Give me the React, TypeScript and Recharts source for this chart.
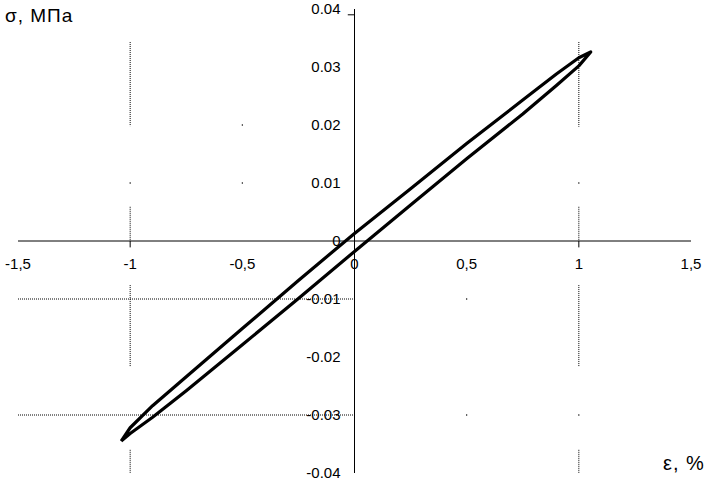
import React from 'react';
import {
  LineChart,
  Line,
  XAxis,
  YAxis,
  ReferenceLine,
  ReferenceDot,
} from 'recharts';

// loop branch going up (upper side), strain % / stress MPa
const upperStrain = [-1.04, -1.0, -0.9, -0.75, -0.5, -0.25, 0, 0.25, 0.5, 0.75, 0.9, 1.0, 1.053];
const upperStress = [-0.0345, -0.0322, -0.0284, -0.0234, -0.0151, -0.0068, 0.0013, 0.009, 0.0168, 0.0243, 0.0288, 0.0316, 0.0326];

// loop branch coming back down (lower side)
const lowerStrain = [1.053, 1.0, 0.9, 0.75, 0.5, 0.25, 0, -0.25, -0.5, -0.75, -0.9, -1.0, -1.04];
const lowerStress = [0.0326, 0.0302, 0.0268, 0.0219, 0.0142, 0.0062, -0.0018, -0.0099, -0.0179, -0.0258, -0.0304, -0.0332, -0.0345];

const xTicks = [-1.5, -1, -0.5, 0, 0.5, 1, 1.5];
const yTicks = [-0.04, -0.03, -0.02, -0.01, 0, 0.01, 0.02, 0.03, 0.04];

// what is left of the dotted grid
const gridVertical = [
  { x: -1, from: 0.0343, to: 0.0198 },
  { x: -1, from: 0.0059, to: 0 },
  { x: -1, from: -0.0076, to: -0.0217 },
  { x: -1, from: -0.036, to: -0.04 },
  { x: 1, from: 0.0343, to: 0.0197 },
  { x: 1, from: 0.0059, to: 0 },
  { x: 1, from: -0.0076, to: -0.0217 },
  { x: 1, from: -0.036, to: -0.04 },
];
const gridHorizontal = [
  { y: -0.01, from: -1.5, to: 0 },
  { y: -0.03, from: -1.5, to: 0 },
];
const gridDots = [
  { x: -0.5, y: 0.02 },
  { x: -0.5, y: 0.01 },
  { x: -1, y: 0.01 },
  { x: 1, y: 0.01 },
  { x: 0.5, y: -0.01 },
  { x: 0.5, y: -0.03 },
  { x: 1, y: -0.03 },
];
const axisTicks = [-1, 1];

const loop = [
  ...upperStrain.map((x, i) => ({ x, y: upperStress[i] })),
  ...lowerStrain.map((x, i) => ({ x, y: lowerStress[i] })),
];

const FONT = '"Liberation Sans", Arial, sans-serif';
const fmtX = (v: number) => String(v).replace('.', ',');
const fmtY = (v: number) => (v === 0 ? '0' : v.toFixed(2));

const App: React.FC = () => {
  return (
    <div style={{ position: 'absolute', left: 0, top: 0, width: 711, height: 491, background: '#fff', fontFamily: FONT }}>
      <LineChart
        width={711}
        height={491}
        data={loop}
        margin={{ top: 9, right: 20, bottom: 18, left: 18 }}
      >
        <XAxis type="number" dataKey="x" domain={[-1.5, 1.5]} allowDataOverflow hide />
        <YAxis type="number" dataKey="y" domain={[-0.04, 0.04]} allowDataOverflow hide />

        {gridVertical.map((g, i) => (
          <ReferenceLine
            key={'gv' + i}
            segment={[{ x: g.x, y: g.from }, { x: g.x, y: g.to }]}
            stroke="#000"
            strokeWidth={1}
            strokeDasharray="1 1"
            ifOverflow="visible"
          />
        ))}
        {gridHorizontal.map((g, i) => (
          <ReferenceLine
            key={'gh' + i}
            segment={[{ x: g.from, y: g.y }, { x: g.to, y: g.y }]}
            stroke="#000"
            strokeWidth={1}
            strokeDasharray="1 1"
            ifOverflow="visible"
          />
        ))}
        {gridDots.map((d, i) => (
          <ReferenceDot key={'gd' + i} x={d.x} y={d.y} r={0.7} fill="#000" stroke="none" ifOverflow="visible" />
        ))}

        {/* axes through the origin */}
        <ReferenceLine segment={[{ x: -1.5, y: 0 }, { x: 1.5, y: 0 }]} stroke="#000" strokeWidth={1} ifOverflow="visible" />
        <ReferenceLine segment={[{ x: 0, y: -0.04 }, { x: 0, y: 0.04 }]} stroke="#000" strokeWidth={1} ifOverflow="visible" />
        {axisTicks.map((t) => (
          <ReferenceLine
            key={'at' + t}
            segment={[{ x: t, y: 0 }, { x: t, y: -0.0011 }]}
            stroke="#000"
            strokeWidth={1}
            ifOverflow="visible"
          />
        ))}
        <ReferenceLine segment={[{ x: -0.03, y: 0.039 }, { x: 0, y: 0.039 }]} stroke="#000" strokeWidth={1} ifOverflow="visible" />

        {xTicks.map((t) => (
          <ReferenceDot
            key={'xt' + t}
            x={t}
            y={0}
            r={0}
            fill="none"
            stroke="none"
            ifOverflow="visible"
            label={{ value: fmtX(t), position: 'bottom', offset: 17, fill: '#000', fontSize: 15, fontFamily: FONT }}
          />
        ))}
        {yTicks.map((t) => (
          <ReferenceDot
            key={'yt' + t}
            x={0}
            y={t}
            r={0}
            fill="none"
            stroke="none"
            ifOverflow="visible"
            label={{ value: fmtY(t), position: 'left', offset: 14, fill: '#000', fontSize: 15, fontFamily: FONT }}
          />
        ))}

        <Line
          dataKey="y"
          type="linear"
          stroke="#000"
          strokeWidth={3.2}
          dot={false}
          isAnimationActive={false}
          strokeLinejoin="round"
        />
      </LineChart>
      <div style={{ position: 'absolute', left: 5, top: 5, fontSize: 19, letterSpacing: 1, color: '#000', whiteSpace: 'nowrap' }}>
        σ, МПа
      </div>
      <div style={{ position: 'absolute', left: 663, top: 452, fontSize: 20, letterSpacing: 1, color: '#000', whiteSpace: 'nowrap' }}>
        ε, %
      </div>
    </div>
  );
};

export default App;
